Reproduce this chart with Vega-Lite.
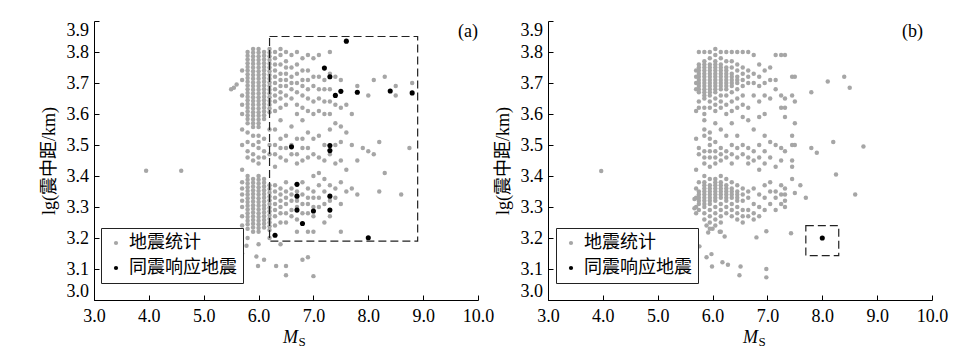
{
  "$schema": "https://vega.github.io/schema/vega-lite/v6.json",
  "background": "white",
  "padding": {"left": 40, "top": 20, "right": 5, "bottom": 5},
  "config": {
    "view": {"stroke": null},
    "font": "Liberation Serif, Noto Sans CJK SC"
  },
  "datasets": {
    "ga": [
      {"x":3.95,"y":3.417},{"x":4.59,"y":3.417},
      {"x":5.5,"y":3.68},{"x":5.55,"y":3.685},{"x":5.6,"y":3.695},
      {"x":5.53,"y":3.197},{"x":5.59,"y":3.11},{"x":5.78,"y":3.175},{"x":5.96,"y":3.14},{"x":5.99,"y":3.11},{"x":6.32,"y":3.11},{"x":6.5,"y":3.11},{"x":6.5,"y":3.08},{"x":7.0,"y":3.077},{"x":6.9,"y":3.138},
      {"x":5.7,"y":3.74},{"x":5.7,"y":3.71},{"x":5.7,"y":3.66},{"x":5.7,"y":3.63},{"x":5.7,"y":3.60},{"x":5.7,"y":3.55},{"x":5.7,"y":3.50},{"x":5.7,"y":3.42},{"x":5.7,"y":3.38},{"x":5.7,"y":3.36},{"x":5.7,"y":3.34},{"x":5.7,"y":3.32},{"x":5.7,"y":3.30},{"x":5.7,"y":3.27},{"x":5.7,"y":3.24},{"x":5.7,"y":3.15},
      {"x":5.8,"y":3.80},{"x":5.8,"y":3.788},{"x":5.8,"y":3.776},{"x":5.8,"y":3.764},{"x":5.8,"y":3.752},{"x":5.8,"y":3.74},{"x":5.8,"y":3.728},{"x":5.8,"y":3.716},{"x":5.8,"y":3.704},{"x":5.8,"y":3.692},{"x":5.8,"y":3.68},{"x":5.8,"y":3.668},{"x":5.8,"y":3.656},{"x":5.8,"y":3.644},{"x":5.8,"y":3.632},{"x":5.8,"y":3.62},{"x":5.8,"y":3.608},{"x":5.8,"y":3.596},{"x":5.8,"y":3.584},{"x":5.8,"y":3.57},{"x":5.8,"y":3.54},{"x":5.8,"y":3.51},{"x":5.8,"y":3.48},{"x":5.8,"y":3.46},{"x":5.8,"y":3.40},{"x":5.8,"y":3.388},{"x":5.8,"y":3.376},{"x":5.8,"y":3.364},{"x":5.8,"y":3.352},{"x":5.8,"y":3.34},{"x":5.8,"y":3.328},{"x":5.8,"y":3.316},{"x":5.8,"y":3.304},{"x":5.8,"y":3.292},{"x":5.8,"y":3.28},{"x":5.8,"y":3.268},{"x":5.8,"y":3.256},{"x":5.8,"y":3.244},{"x":5.8,"y":3.23},{"x":5.8,"y":3.20},
      {"x":5.9,"y":3.81},{"x":5.9,"y":3.798},{"x":5.9,"y":3.786},{"x":5.9,"y":3.774},{"x":5.9,"y":3.762},{"x":5.9,"y":3.75},{"x":5.9,"y":3.738},{"x":5.9,"y":3.726},{"x":5.9,"y":3.714},{"x":5.9,"y":3.702},{"x":5.9,"y":3.69},{"x":5.9,"y":3.678},{"x":5.9,"y":3.666},{"x":5.9,"y":3.654},{"x":5.9,"y":3.642},{"x":5.9,"y":3.63},{"x":5.9,"y":3.618},{"x":5.9,"y":3.606},{"x":5.9,"y":3.594},{"x":5.9,"y":3.582},{"x":5.9,"y":3.57},{"x":5.9,"y":3.558},{"x":5.9,"y":3.53},{"x":5.9,"y":3.50},{"x":5.9,"y":3.47},{"x":5.9,"y":3.45},{"x":5.9,"y":3.39},{"x":5.9,"y":3.378},{"x":5.9,"y":3.366},{"x":5.9,"y":3.354},{"x":5.9,"y":3.342},{"x":5.9,"y":3.33},{"x":5.9,"y":3.318},{"x":5.9,"y":3.306},{"x":5.9,"y":3.294},{"x":5.9,"y":3.282},{"x":5.9,"y":3.27},{"x":5.9,"y":3.258},{"x":5.9,"y":3.246},{"x":5.9,"y":3.234},{"x":5.9,"y":3.22},
      {"x":6.0,"y":3.81},{"x":6.0,"y":3.798},{"x":6.0,"y":3.786},{"x":6.0,"y":3.774},{"x":6.0,"y":3.762},{"x":6.0,"y":3.75},{"x":6.0,"y":3.738},{"x":6.0,"y":3.726},{"x":6.0,"y":3.714},{"x":6.0,"y":3.702},{"x":6.0,"y":3.69},{"x":6.0,"y":3.678},{"x":6.0,"y":3.666},{"x":6.0,"y":3.654},{"x":6.0,"y":3.642},{"x":6.0,"y":3.63},{"x":6.0,"y":3.618},{"x":6.0,"y":3.606},{"x":6.0,"y":3.594},{"x":6.0,"y":3.582},{"x":6.0,"y":3.57},{"x":6.0,"y":3.558},{"x":6.0,"y":3.53},{"x":6.0,"y":3.51},{"x":6.0,"y":3.49},{"x":6.0,"y":3.46},{"x":6.0,"y":3.44},{"x":6.0,"y":3.40},{"x":6.0,"y":3.388},{"x":6.0,"y":3.376},{"x":6.0,"y":3.364},{"x":6.0,"y":3.352},{"x":6.0,"y":3.34},{"x":6.0,"y":3.328},{"x":6.0,"y":3.316},{"x":6.0,"y":3.304},{"x":6.0,"y":3.292},{"x":6.0,"y":3.28},{"x":6.0,"y":3.268},{"x":6.0,"y":3.256},{"x":6.0,"y":3.244},{"x":6.0,"y":3.232},{"x":6.0,"y":3.22},{"x":6.0,"y":3.18},
      {"x":6.1,"y":3.80},{"x":6.1,"y":3.788},{"x":6.1,"y":3.776},{"x":6.1,"y":3.764},{"x":6.1,"y":3.752},{"x":6.1,"y":3.74},{"x":6.1,"y":3.728},{"x":6.1,"y":3.716},{"x":6.1,"y":3.704},{"x":6.1,"y":3.692},{"x":6.1,"y":3.68},{"x":6.1,"y":3.668},{"x":6.1,"y":3.656},{"x":6.1,"y":3.644},{"x":6.1,"y":3.632},{"x":6.1,"y":3.62},{"x":6.1,"y":3.608},{"x":6.1,"y":3.596},{"x":6.1,"y":3.584},{"x":6.1,"y":3.52},{"x":6.1,"y":3.48},{"x":6.1,"y":3.46},{"x":6.1,"y":3.39},{"x":6.1,"y":3.378},{"x":6.1,"y":3.366},{"x":6.1,"y":3.354},{"x":6.1,"y":3.342},{"x":6.1,"y":3.33},{"x":6.1,"y":3.318},{"x":6.1,"y":3.306},{"x":6.1,"y":3.294},{"x":6.1,"y":3.282},{"x":6.1,"y":3.27},{"x":6.1,"y":3.258},{"x":6.1,"y":3.246},{"x":6.1,"y":3.234},{"x":6.1,"y":3.13},
      {"x":6.2,"y":3.81},{"x":6.2,"y":3.798},{"x":6.2,"y":3.786},{"x":6.2,"y":3.774},{"x":6.2,"y":3.762},{"x":6.2,"y":3.75},{"x":6.2,"y":3.738},{"x":6.2,"y":3.726},{"x":6.2,"y":3.714},{"x":6.2,"y":3.702},{"x":6.2,"y":3.69},{"x":6.2,"y":3.678},{"x":6.2,"y":3.666},{"x":6.2,"y":3.654},{"x":6.2,"y":3.642},{"x":6.2,"y":3.63},{"x":6.2,"y":3.618},{"x":6.2,"y":3.606},{"x":6.2,"y":3.55},{"x":6.2,"y":3.50},{"x":6.2,"y":3.47},{"x":6.2,"y":3.37},{"x":6.2,"y":3.358},{"x":6.2,"y":3.346},{"x":6.2,"y":3.334},{"x":6.2,"y":3.322},{"x":6.2,"y":3.31},{"x":6.2,"y":3.298},{"x":6.2,"y":3.286},{"x":6.2,"y":3.274},{"x":6.2,"y":3.262},{"x":6.2,"y":3.25},{"x":6.2,"y":3.238},{"x":6.2,"y":3.226},{"x":6.2,"y":3.20},
      {"x":6.3,"y":3.80},{"x":6.3,"y":3.78},{"x":6.3,"y":3.76},{"x":6.3,"y":3.74},{"x":6.3,"y":3.72},{"x":6.3,"y":3.70},{"x":6.3,"y":3.68},{"x":6.3,"y":3.66},{"x":6.3,"y":3.64},{"x":6.3,"y":3.61},{"x":6.3,"y":3.55},{"x":6.3,"y":3.50},{"x":6.3,"y":3.47},{"x":6.3,"y":3.43},{"x":6.3,"y":3.37},{"x":6.3,"y":3.35},{"x":6.3,"y":3.33},{"x":6.3,"y":3.31},{"x":6.3,"y":3.29},{"x":6.3,"y":3.27},{"x":6.3,"y":3.24},
      {"x":6.4,"y":3.81},{"x":6.4,"y":3.79},{"x":6.4,"y":3.76},{"x":6.4,"y":3.73},{"x":6.4,"y":3.71},{"x":6.4,"y":3.69},{"x":6.4,"y":3.67},{"x":6.4,"y":3.65},{"x":6.4,"y":3.62},{"x":6.4,"y":3.58},{"x":6.4,"y":3.52},{"x":6.4,"y":3.49},{"x":6.4,"y":3.46},{"x":6.4,"y":3.36},{"x":6.4,"y":3.34},{"x":6.4,"y":3.32},{"x":6.4,"y":3.30},{"x":6.4,"y":3.28},{"x":6.4,"y":3.25},{"x":6.4,"y":3.18},
      {"x":6.5,"y":3.80},{"x":6.5,"y":3.77},{"x":6.5,"y":3.75},{"x":6.5,"y":3.73},{"x":6.5,"y":3.71},{"x":6.5,"y":3.69},{"x":6.5,"y":3.66},{"x":6.5,"y":3.63},{"x":6.5,"y":3.53},{"x":6.5,"y":3.49},{"x":6.5,"y":3.45},{"x":6.5,"y":3.38},{"x":6.5,"y":3.35},{"x":6.5,"y":3.33},{"x":6.5,"y":3.31},{"x":6.5,"y":3.28},{"x":6.5,"y":3.25},
      {"x":6.6,"y":3.79},{"x":6.6,"y":3.75},{"x":6.6,"y":3.72},{"x":6.6,"y":3.70},{"x":6.6,"y":3.68},{"x":6.6,"y":3.65},{"x":6.6,"y":3.56},{"x":6.6,"y":3.50},{"x":6.6,"y":3.47},{"x":6.6,"y":3.36},{"x":6.6,"y":3.34},{"x":6.6,"y":3.32},{"x":6.6,"y":3.29},{"x":6.6,"y":3.27},
      {"x":6.7,"y":3.80},{"x":6.7,"y":3.76},{"x":6.7,"y":3.73},{"x":6.7,"y":3.70},{"x":6.7,"y":3.67},{"x":6.7,"y":3.63},{"x":6.7,"y":3.60},{"x":6.7,"y":3.52},{"x":6.7,"y":3.47},{"x":6.7,"y":3.44},{"x":6.7,"y":3.35},{"x":6.7,"y":3.32},{"x":6.7,"y":3.30},{"x":6.7,"y":3.26},{"x":6.7,"y":3.22},
      {"x":6.8,"y":3.78},{"x":6.8,"y":3.74},{"x":6.8,"y":3.71},{"x":6.8,"y":3.69},{"x":6.8,"y":3.66},{"x":6.8,"y":3.62},{"x":6.8,"y":3.58},{"x":6.8,"y":3.52},{"x":6.8,"y":3.49},{"x":6.8,"y":3.45},{"x":6.8,"y":3.38},{"x":6.8,"y":3.34},{"x":6.8,"y":3.31},{"x":6.8,"y":3.28},{"x":6.8,"y":3.13},
      {"x":6.9,"y":3.79},{"x":6.9,"y":3.74},{"x":6.9,"y":3.71},{"x":6.9,"y":3.68},{"x":6.9,"y":3.65},{"x":6.9,"y":3.61},{"x":6.9,"y":3.54},{"x":6.9,"y":3.49},{"x":6.9,"y":3.46},{"x":6.9,"y":3.36},{"x":6.9,"y":3.33},{"x":6.9,"y":3.31},{"x":6.9,"y":3.28},{"x":6.9,"y":3.22},
      {"x":7.0,"y":3.78},{"x":7.0,"y":3.72},{"x":7.0,"y":3.69},{"x":7.0,"y":3.64},{"x":7.0,"y":3.60},{"x":7.0,"y":3.52},{"x":7.0,"y":3.47},{"x":7.0,"y":3.40},{"x":7.0,"y":3.35},{"x":7.0,"y":3.33},{"x":7.0,"y":3.30},{"x":7.0,"y":3.27},{"x":7.0,"y":3.22},
      {"x":7.1,"y":3.79},{"x":7.1,"y":3.72},{"x":7.1,"y":3.68},{"x":7.1,"y":3.65},{"x":7.1,"y":3.61},{"x":7.1,"y":3.53},{"x":7.1,"y":3.46},{"x":7.1,"y":3.41},{"x":7.1,"y":3.37},{"x":7.1,"y":3.33},{"x":7.1,"y":3.30},
      {"x":7.2,"y":3.71},{"x":7.2,"y":3.68},{"x":7.2,"y":3.64},{"x":7.2,"y":3.60},{"x":7.2,"y":3.50},{"x":7.2,"y":3.45},{"x":7.2,"y":3.39},{"x":7.2,"y":3.35},{"x":7.2,"y":3.31},{"x":7.2,"y":3.25},
      {"x":7.3,"y":3.80},{"x":7.3,"y":3.73},{"x":7.3,"y":3.68},{"x":7.3,"y":3.64},{"x":7.3,"y":3.60},{"x":7.3,"y":3.55},{"x":7.3,"y":3.47},{"x":7.3,"y":3.37},{"x":7.3,"y":3.32},{"x":7.3,"y":3.27},
      {"x":7.4,"y":3.72},{"x":7.4,"y":3.63},{"x":7.4,"y":3.57},{"x":7.4,"y":3.50},{"x":7.4,"y":3.44},{"x":7.4,"y":3.36},{"x":7.4,"y":3.33},
      {"x":7.5,"y":3.71},{"x":7.5,"y":3.62},{"x":7.5,"y":3.56},{"x":7.5,"y":3.51},{"x":7.5,"y":3.45},{"x":7.5,"y":3.38},{"x":7.5,"y":3.31},{"x":7.5,"y":3.22},
      {"x":7.6,"y":3.63},{"x":7.6,"y":3.54},{"x":7.6,"y":3.42},{"x":7.6,"y":3.35},
      {"x":7.7,"y":3.60},{"x":7.7,"y":3.50},{"x":7.7,"y":3.36},
      {"x":7.8,"y":3.69},{"x":7.8,"y":3.45},{"x":7.8,"y":3.34},
      {"x":7.9,"y":3.49},{"x":8.0,"y":3.66},{"x":8.0,"y":3.48},{"x":8.1,"y":3.71},{"x":8.1,"y":3.47},{"x":8.2,"y":3.51},{"x":8.2,"y":3.35},{"x":8.3,"y":3.72},{"x":8.3,"y":3.41},{"x":8.5,"y":3.69},{"x":8.5,"y":3.66},{"x":8.6,"y":3.34},{"x":8.75,"y":3.49},{"x":8.8,"y":3.70}
    ],
    "ba": [
      {"x":7.6,"y":3.835},{"x":7.2,"y":3.748},{"x":7.3,"y":3.72},{"x":7.5,"y":3.673},{"x":7.4,"y":3.66},{"x":7.8,"y":3.67},{"x":8.4,"y":3.674},{"x":8.8,"y":3.668},{"x":6.6,"y":3.494},{"x":7.3,"y":3.498},{"x":7.3,"y":3.482},{"x":6.7,"y":3.373},{"x":6.7,"y":3.335},{"x":7.3,"y":3.335},{"x":6.7,"y":3.29},{"x":7.0,"y":3.287},{"x":7.3,"y":3.29},{"x":6.8,"y":3.247},{"x":6.3,"y":3.209},{"x":8.0,"y":3.201}
    ],
    "gb": [
      {"x":5.58,"y":3.113},{"x":5.70,"y":3.145},{"x":5.76,"y":3.173},{"x":5.89,"y":3.138},{"x":5.98,"y":3.148},{"x":5.99,"y":3.108},{"x":6.18,"y":3.122},{"x":6.28,"y":3.114},{"x":6.51,"y":3.108},{"x":6.49,"y":3.08},{"x":6.98,"y":3.073},{"x":6.98,"y":3.10},{"x":5.67,"y":3.296},{"x":5.67,"y":3.326},{"x":5.89,"y":3.24},{"x":5.92,"y":3.218},{"x":6.0,"y":3.23},{"x":6.13,"y":3.22},{"x":6.22,"y":3.205},{"x":6.8,"y":3.202},{"x":6.98,"y":3.222},{"x":7.43,"y":3.215},{"x":3.97,"y":3.416},
      {"x":5.7,"y":3.74},{"x":5.7,"y":3.72},{"x":5.7,"y":3.70},{"x":5.7,"y":3.68},{"x":5.7,"y":3.61},{"x":5.7,"y":3.52},{"x":5.7,"y":3.42},{"x":5.7,"y":3.36},{"x":5.7,"y":3.33},{"x":5.7,"y":3.30},{"x":5.7,"y":3.28},
      {"x":5.75,"y":3.80},{"x":5.75,"y":3.76},{"x":5.75,"y":3.75},{"x":5.75,"y":3.74},{"x":5.75,"y":3.73},{"x":5.75,"y":3.72},{"x":5.75,"y":3.71},{"x":5.75,"y":3.70},{"x":5.75,"y":3.69},{"x":5.75,"y":3.68},{"x":5.75,"y":3.67},{"x":5.75,"y":3.64},{"x":5.75,"y":3.62},{"x":5.75,"y":3.49},{"x":5.75,"y":3.47},{"x":5.75,"y":3.38},{"x":5.75,"y":3.35},{"x":5.75,"y":3.34},{"x":5.75,"y":3.33},{"x":5.75,"y":3.32},{"x":5.75,"y":3.31},{"x":5.75,"y":3.29},
      {"x":5.85,"y":3.80},{"x":5.85,"y":3.77},{"x":5.85,"y":3.76},{"x":5.85,"y":3.75},{"x":5.85,"y":3.74},{"x":5.85,"y":3.73},{"x":5.85,"y":3.72},{"x":5.85,"y":3.71},{"x":5.85,"y":3.70},{"x":5.85,"y":3.69},{"x":5.85,"y":3.68},{"x":5.85,"y":3.67},{"x":5.85,"y":3.66},{"x":5.85,"y":3.65},{"x":5.85,"y":3.62},{"x":5.85,"y":3.60},{"x":5.85,"y":3.58},{"x":5.85,"y":3.55},{"x":5.85,"y":3.53},{"x":5.85,"y":3.48},{"x":5.85,"y":3.46},{"x":5.85,"y":3.44},{"x":5.85,"y":3.40},{"x":5.85,"y":3.38},{"x":5.85,"y":3.37},{"x":5.85,"y":3.36},{"x":5.85,"y":3.35},{"x":5.85,"y":3.34},{"x":5.85,"y":3.33},{"x":5.85,"y":3.32},{"x":5.85,"y":3.31},{"x":5.85,"y":3.30},{"x":5.85,"y":3.28},{"x":5.85,"y":3.26},
      {"x":5.95,"y":3.80},{"x":5.95,"y":3.78},{"x":5.95,"y":3.76},{"x":5.95,"y":3.75},{"x":5.95,"y":3.74},{"x":5.95,"y":3.73},{"x":5.95,"y":3.72},{"x":5.95,"y":3.71},{"x":5.95,"y":3.70},{"x":5.95,"y":3.69},{"x":5.95,"y":3.68},{"x":5.95,"y":3.67},{"x":5.95,"y":3.66},{"x":5.95,"y":3.64},{"x":5.95,"y":3.62},{"x":5.95,"y":3.54},{"x":5.95,"y":3.52},{"x":5.95,"y":3.50},{"x":5.95,"y":3.48},{"x":5.95,"y":3.46},{"x":5.95,"y":3.43},{"x":5.95,"y":3.39},{"x":5.95,"y":3.37},{"x":5.95,"y":3.36},{"x":5.95,"y":3.35},{"x":5.95,"y":3.34},{"x":5.95,"y":3.33},{"x":5.95,"y":3.32},{"x":5.95,"y":3.31},{"x":5.95,"y":3.29},{"x":5.95,"y":3.27},{"x":5.95,"y":3.25},{"x":5.95,"y":3.23},
      {"x":6.05,"y":3.81},{"x":6.05,"y":3.79},{"x":6.05,"y":3.77},{"x":6.05,"y":3.76},{"x":6.05,"y":3.75},{"x":6.05,"y":3.74},{"x":6.05,"y":3.73},{"x":6.05,"y":3.72},{"x":6.05,"y":3.71},{"x":6.05,"y":3.70},{"x":6.05,"y":3.69},{"x":6.05,"y":3.68},{"x":6.05,"y":3.67},{"x":6.05,"y":3.65},{"x":6.05,"y":3.63},{"x":6.05,"y":3.61},{"x":6.05,"y":3.57},{"x":6.05,"y":3.51},{"x":6.05,"y":3.48},{"x":6.05,"y":3.46},{"x":6.05,"y":3.44},{"x":6.05,"y":3.39},{"x":6.05,"y":3.38},{"x":6.05,"y":3.37},{"x":6.05,"y":3.36},{"x":6.05,"y":3.35},{"x":6.05,"y":3.34},{"x":6.05,"y":3.33},{"x":6.05,"y":3.32},{"x":6.05,"y":3.30},{"x":6.05,"y":3.28},{"x":6.05,"y":3.26},{"x":6.05,"y":3.24},
      {"x":6.15,"y":3.80},{"x":6.15,"y":3.78},{"x":6.15,"y":3.76},{"x":6.15,"y":3.75},{"x":6.15,"y":3.74},{"x":6.15,"y":3.73},{"x":6.15,"y":3.72},{"x":6.15,"y":3.71},{"x":6.15,"y":3.70},{"x":6.15,"y":3.69},{"x":6.15,"y":3.68},{"x":6.15,"y":3.66},{"x":6.15,"y":3.64},{"x":6.15,"y":3.62},{"x":6.15,"y":3.55},{"x":6.15,"y":3.49},{"x":6.15,"y":3.47},{"x":6.15,"y":3.45},{"x":6.15,"y":3.40},{"x":6.15,"y":3.38},{"x":6.15,"y":3.37},{"x":6.15,"y":3.36},{"x":6.15,"y":3.35},{"x":6.15,"y":3.34},{"x":6.15,"y":3.33},{"x":6.15,"y":3.31},{"x":6.15,"y":3.29},{"x":6.15,"y":3.27},{"x":6.15,"y":3.25},{"x":6.15,"y":3.22},
      {"x":6.25,"y":3.80},{"x":6.25,"y":3.77},{"x":6.25,"y":3.75},{"x":6.25,"y":3.74},{"x":6.25,"y":3.73},{"x":6.25,"y":3.72},{"x":6.25,"y":3.71},{"x":6.25,"y":3.70},{"x":6.25,"y":3.69},{"x":6.25,"y":3.68},{"x":6.25,"y":3.66},{"x":6.25,"y":3.63},{"x":6.25,"y":3.60},{"x":6.25,"y":3.53},{"x":6.25,"y":3.48},{"x":6.25,"y":3.46},{"x":6.25,"y":3.39},{"x":6.25,"y":3.37},{"x":6.25,"y":3.36},{"x":6.25,"y":3.35},{"x":6.25,"y":3.34},{"x":6.25,"y":3.33},{"x":6.25,"y":3.32},{"x":6.25,"y":3.30},{"x":6.25,"y":3.28},
      {"x":6.35,"y":3.80},{"x":6.35,"y":3.77},{"x":6.35,"y":3.75},{"x":6.35,"y":3.73},{"x":6.35,"y":3.72},{"x":6.35,"y":3.71},{"x":6.35,"y":3.70},{"x":6.35,"y":3.69},{"x":6.35,"y":3.67},{"x":6.35,"y":3.64},{"x":6.35,"y":3.61},{"x":6.35,"y":3.57},{"x":6.35,"y":3.50},{"x":6.35,"y":3.47},{"x":6.35,"y":3.44},{"x":6.35,"y":3.38},{"x":6.35,"y":3.36},{"x":6.35,"y":3.35},{"x":6.35,"y":3.34},{"x":6.35,"y":3.33},{"x":6.35,"y":3.31},{"x":6.35,"y":3.29},{"x":6.35,"y":3.27},
      {"x":6.45,"y":3.80},{"x":6.45,"y":3.76},{"x":6.45,"y":3.74},{"x":6.45,"y":3.72},{"x":6.45,"y":3.71},{"x":6.45,"y":3.70},{"x":6.45,"y":3.68},{"x":6.45,"y":3.65},{"x":6.45,"y":3.62},{"x":6.45,"y":3.53},{"x":6.45,"y":3.49},{"x":6.45,"y":3.46},{"x":6.45,"y":3.37},{"x":6.45,"y":3.35},{"x":6.45,"y":3.34},{"x":6.45,"y":3.33},{"x":6.45,"y":3.32},{"x":6.45,"y":3.30},{"x":6.45,"y":3.28},{"x":6.45,"y":3.26},
      {"x":6.55,"y":3.80},{"x":6.55,"y":3.75},{"x":6.55,"y":3.73},{"x":6.55,"y":3.71},{"x":6.55,"y":3.69},{"x":6.55,"y":3.66},{"x":6.55,"y":3.63},{"x":6.55,"y":3.59},{"x":6.55,"y":3.50},{"x":6.55,"y":3.47},{"x":6.55,"y":3.36},{"x":6.55,"y":3.34},{"x":6.55,"y":3.32},{"x":6.55,"y":3.29},{"x":6.55,"y":3.27},{"x":6.55,"y":3.25},
      {"x":6.65,"y":3.80},{"x":6.65,"y":3.74},{"x":6.65,"y":3.72},{"x":6.65,"y":3.70},{"x":6.65,"y":3.62},{"x":6.65,"y":3.58},{"x":6.65,"y":3.49},{"x":6.65,"y":3.46},{"x":6.65,"y":3.44},{"x":6.65,"y":3.35},{"x":6.65,"y":3.33},{"x":6.65,"y":3.29},{"x":6.65,"y":3.27},
      {"x":6.75,"y":3.79},{"x":6.75,"y":3.73},{"x":6.75,"y":3.70},{"x":6.75,"y":3.66},{"x":6.75,"y":3.55},{"x":6.75,"y":3.48},{"x":6.75,"y":3.45},{"x":6.75,"y":3.36},{"x":6.75,"y":3.31},{"x":6.75,"y":3.28},{"x":6.75,"y":3.26},
      {"x":6.85,"y":3.76},{"x":6.85,"y":3.72},{"x":6.85,"y":3.69},{"x":6.85,"y":3.64},{"x":6.85,"y":3.59},{"x":6.85,"y":3.50},{"x":6.85,"y":3.46},{"x":6.85,"y":3.42},{"x":6.85,"y":3.34},{"x":6.85,"y":3.30},{"x":6.85,"y":3.27},
      {"x":6.95,"y":3.74},{"x":6.95,"y":3.70},{"x":6.95,"y":3.66},{"x":6.95,"y":3.60},{"x":6.95,"y":3.53},{"x":6.95,"y":3.48},{"x":6.95,"y":3.44},{"x":6.95,"y":3.37},{"x":6.95,"y":3.33},{"x":6.95,"y":3.29},
      {"x":7.05,"y":3.75},{"x":7.05,"y":3.71},{"x":7.05,"y":3.65},{"x":7.05,"y":3.51},{"x":7.05,"y":3.46},{"x":7.05,"y":3.38},{"x":7.05,"y":3.35},{"x":7.05,"y":3.31},
      {"x":7.15,"y":3.79},{"x":7.15,"y":3.71},{"x":7.15,"y":3.68},{"x":7.15,"y":3.50},{"x":7.15,"y":3.43},{"x":7.15,"y":3.35},{"x":7.15,"y":3.33},{"x":7.15,"y":3.29},
      {"x":7.25,"y":3.79},{"x":7.25,"y":3.66},{"x":7.25,"y":3.62},{"x":7.25,"y":3.49},{"x":7.25,"y":3.45},{"x":7.25,"y":3.37},{"x":7.25,"y":3.34},{"x":7.25,"y":3.31},
      {"x":7.32,"y":3.79},{"x":7.32,"y":3.65},{"x":7.32,"y":3.62},{"x":7.32,"y":3.59},{"x":7.32,"y":3.48},{"x":7.32,"y":3.36},{"x":7.32,"y":3.34},{"x":7.32,"y":3.32},{"x":7.32,"y":3.30},
      {"x":7.45,"y":3.72},{"x":7.45,"y":3.66},{"x":7.45,"y":3.53},{"x":7.45,"y":3.50},{"x":7.45,"y":3.45},{"x":7.45,"y":3.43},{"x":7.45,"y":3.39},
      {"x":7.5,"y":3.72},{"x":7.5,"y":3.64},{"x":7.5,"y":3.57},{"x":7.5,"y":3.50},{"x":7.5,"y":3.345},
      {"x":7.6,"y":3.37},{"x":7.7,"y":3.33},{"x":7.8,"y":3.67},{"x":7.8,"y":3.49},{"x":7.9,"y":3.475},{"x":8.1,"y":3.705},{"x":8.2,"y":3.51},{"x":8.25,"y":3.405},{"x":8.4,"y":3.72},{"x":8.5,"y":3.685},{"x":8.6,"y":3.34},{"x":8.75,"y":3.495}
    ],
    "bb": [{"x":8.0,"y":3.2}],
    "ra": [{"x":6.2,"x2":8.9,"y":3.19,"y2":3.85}],
    "rb": [{"x":7.7,"x2":8.3,"y":3.143,"y2":3.24}]
  },
  "hconcat": [
    {
      "width": 384,
      "height": 279,
      "view": {"stroke": null},
      "title": {"text": "(a)", "anchor": "end", "frame": "group", "offset": -20, "font": "Liberation Serif", "fontSize": 18, "fontWeight": "normal", "color": "#000"},
      "resolve": {"axis": {"x": "independent", "y": "independent"}},
      "layer": [
        {
          "data": {"name": "ga"},
          "mark": {"type": "circle", "size": 20, "opacity": 1},
          "encoding": {
            "x": {"field": "x", "type": "quantitative", "scale": {"domain": [3, 10], "nice": false, "zero": false},
                  "axis": {"orient": "bottom", "values": [3, 4, 5, 6, 7, 8, 9, 10], "format": ".1f", "grid": false,
                           "domainColor": "#000", "domainWidth": 1, "tickColor": "#000", "tickWidth": 1, "tickSize": -5,
                           "labelColor": "#000", "labelFont": "Liberation Serif", "labelFontSize": 18, "labelFlush": false, "labelOverlap": false, "labelPadding": 12,
                           "title": "M", "titleColor": "#000", "titleFont": "Liberation Serif", "titleFontSize": 18, "titleFontWeight": "normal",
                           "titleFontStyle": "italic", "titleAlign": "center", "titleBaseline": "alphabetic", "titleX": 196, "titleY": 42}},
            "y": {"field": "y", "type": "quantitative", "scale": {"domain": [3, 3.9], "nice": false, "zero": false},
                  "axis": {"orient": "left", "values": [3, 3.1, 3.2, 3.3, 3.4, 3.5, 3.6, 3.7, 3.8, 3.9], "format": ".1f", "grid": false,
                           "domainColor": "#000", "domainWidth": 1, "tickColor": "#000", "tickWidth": 1, "tickSize": -5,
                           "labelColor": "#000", "labelFont": "Liberation Serif", "labelFontSize": 18, "labelFlush": true, "labelOverlap": false, "labelPadding": 10.5,
                           "title": "lg(震中距/km)", "titleColor": "#000", "titleFont": "Liberation Serif, Noto Sans CJK SC", "titleFontSize": 18, "titleFontWeight": "normal", "titlePadding": 8}},
            "color": {"datum": "地震统计", "type": "nominal",
                      "scale": {"domain": ["地震统计", "同震响应地震"], "range": ["#a6a6a6", "#000000"]},
                      "legend": {"title": null, "orient": "none", "legendX": 7, "legendY": 207, "direction": "vertical",
                                 "fillColor": "white", "strokeColor": "#222", "padding": 6, "labelFontSize": 18,
                                 "labelFont": "Liberation Serif, Noto Sans CJK SC", "labelColor": "#000", "symbolSize": 18,
                                 "symbolType": "circle", "labelOffset": 4, "rowPadding": 7, "symbolStrokeWidth": 0}}
          }
        },
        {
          "data": {"name": "ba"},
          "mark": {"type": "circle", "size": 26, "opacity": 1},
          "encoding": {
            "x": {"field": "x", "type": "quantitative", "axis": null},
            "y": {"field": "y", "type": "quantitative", "axis": null},
            "color": {"datum": "同震响应地震", "type": "nominal"}
          }
        },
        {
          "data": {"name": "ra"},
          "mark": {"type": "rect", "filled": false, "stroke": "#222", "strokeWidth": 1.2, "strokeDash": [8, 4]},
          "encoding": {
            "x": {"field": "x", "type": "quantitative",
                  "axis": {"orient": "bottom", "domain": false, "ticks": false, "labels": false, "grid": false,
                           "title": "S", "titleColor": "#000", "titleFont": "Liberation Serif", "titleFontSize": 13, "titleFontWeight": "normal", "titleFontStyle": "normal",
                           "titleAlign": "left", "titleBaseline": "alphabetic", "titleX": 204, "titleY": 45}},
            "x2": {"field": "x2"},
            "y": {"field": "y", "type": "quantitative", "axis": null},
            "y2": {"field": "y2"}
          }
        }
      ]
    },
    {
      "width": 384,
      "height": 279,
      "view": {"stroke": null},
      "title": {"text": "(b)", "anchor": "end", "frame": "group", "offset": -20, "dx": -9, "font": "Liberation Serif", "fontSize": 18, "fontWeight": "normal", "color": "#000"},
      "resolve": {"axis": {"x": "independent", "y": "independent"}},
      "layer": [
        {
          "data": {"name": "gb"},
          "mark": {"type": "circle", "size": 20, "opacity": 1},
          "encoding": {
            "x": {"field": "x", "type": "quantitative", "scale": {"domain": [3, 10], "nice": false, "zero": false},
                  "axis": {"orient": "bottom", "values": [3, 4, 5, 6, 7, 8, 9, 10], "format": ".1f", "grid": false,
                           "domainColor": "#000", "domainWidth": 1, "tickColor": "#000", "tickWidth": 1, "tickSize": -5,
                           "labelColor": "#000", "labelFont": "Liberation Serif", "labelFontSize": 18, "labelFlush": false, "labelOverlap": false, "labelPadding": 12,
                           "title": "M", "titleColor": "#000", "titleFont": "Liberation Serif", "titleFontSize": 18, "titleFontWeight": "normal",
                           "titleFontStyle": "italic", "titleAlign": "center", "titleBaseline": "alphabetic", "titleX": 202, "titleY": 42}},
            "y": {"field": "y", "type": "quantitative", "scale": {"domain": [3, 3.9], "nice": false, "zero": false},
                  "axis": {"orient": "left", "values": [3, 3.1, 3.2, 3.3, 3.4, 3.5, 3.6, 3.7, 3.8, 3.9], "format": ".1f", "grid": false,
                           "domainColor": "#000", "domainWidth": 1, "tickColor": "#000", "tickWidth": 1, "tickSize": -5,
                           "labelColor": "#000", "labelFont": "Liberation Serif", "labelFontSize": 18, "labelFlush": true, "labelOverlap": false, "labelPadding": 10.5,
                           "title": "lg(震中距/km)", "titleColor": "#000", "titleFont": "Liberation Serif, Noto Sans CJK SC", "titleFontSize": 18, "titleFontWeight": "normal", "titlePadding": 8}},
            "color": {"datum": "地震统计", "type": "nominal",
                      "scale": {"domain": ["地震统计", "同震响应地震"], "range": ["#a6a6a6", "#000000"]},
                      "legend": {"title": null, "orient": "none", "legendX": 8, "legendY": 207, "direction": "vertical",
                                 "fillColor": "white", "strokeColor": "#222", "padding": 6, "labelFontSize": 18,
                                 "labelFont": "Liberation Serif, Noto Sans CJK SC", "labelColor": "#000", "symbolSize": 18,
                                 "symbolType": "circle", "labelOffset": 4, "rowPadding": 7, "symbolStrokeWidth": 0}}
          }
        },
        {
          "data": {"name": "bb"},
          "mark": {"type": "circle", "size": 26, "opacity": 1},
          "encoding": {
            "x": {"field": "x", "type": "quantitative", "axis": null},
            "y": {"field": "y", "type": "quantitative", "axis": null},
            "color": {"datum": "同震响应地震", "type": "nominal"}
          }
        },
        {
          "data": {"name": "rb"},
          "mark": {"type": "rect", "filled": false, "stroke": "#222", "strokeWidth": 1.2, "strokeDash": [8, 4]},
          "encoding": {
            "x": {"field": "x", "type": "quantitative",
                  "axis": {"orient": "bottom", "domain": false, "ticks": false, "labels": false, "grid": false,
                           "title": "S", "titleColor": "#000", "titleFont": "Liberation Serif", "titleFontSize": 13, "titleFontWeight": "normal", "titleFontStyle": "normal",
                           "titleAlign": "left", "titleBaseline": "alphabetic", "titleX": 210, "titleY": 45}},
            "x2": {"field": "x2"},
            "y": {"field": "y", "type": "quantitative", "axis": null},
            "y2": {"field": "y2"}
          }
        }
      ]
    }
  ],
  "spacing": 70,
  "bounds": "flush",
  "resolve": {"legend": {"color": "independent"}}
}
